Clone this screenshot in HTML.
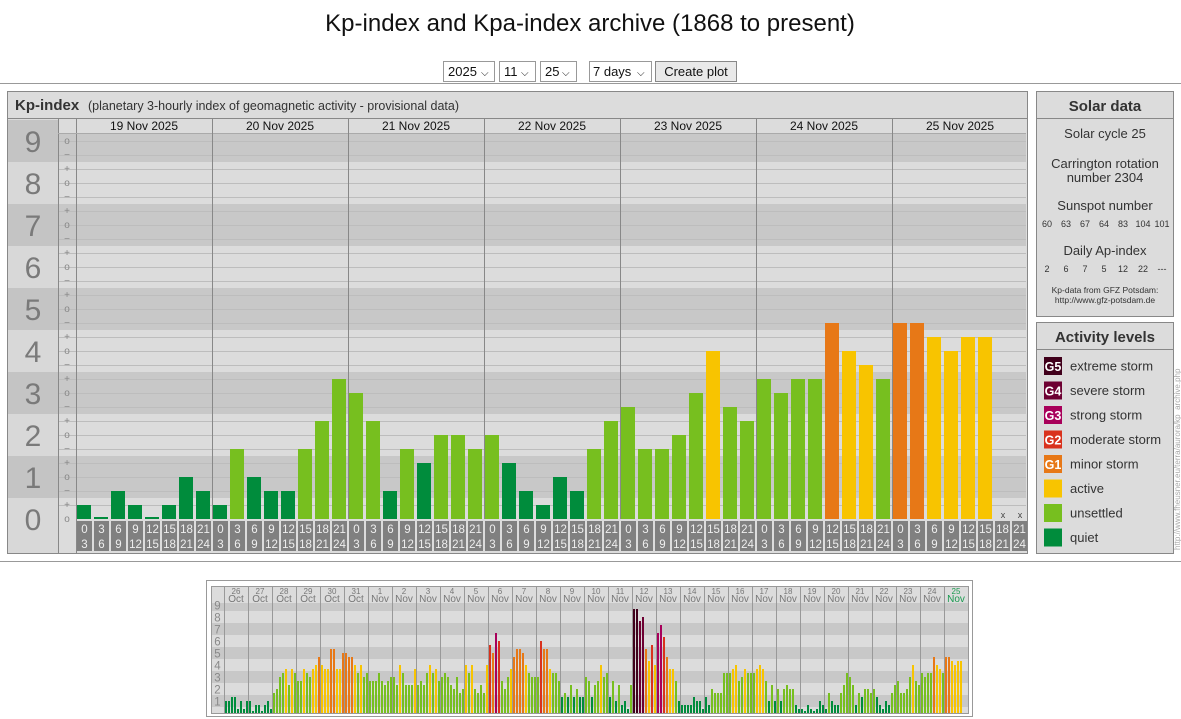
<!DOCTYPE html>
<html><head><meta charset="utf-8"><style>
html,body{margin:0;padding:0;background:#fff;}
svg{display:block;font-family:"Liberation Sans",sans-serif;}
</style></head><body>
<svg id="s" width="1181" height="719" xmlns="http://www.w3.org/2000/svg">
<text x="590" y="31" text-anchor="middle" font-size="24" fill="#111">Kp-index and Kpa-index archive (1868 to present)</text>
<g font-size="13" fill="#111">
<rect x="443.5" y="61.5" width="51" height="20" fill="#fff" stroke="#999"/><text x="448" y="76">2025</text><text x="481" y="76" font-size="10">⌵</text>
<rect x="499.5" y="61.5" width="36" height="20" fill="#fff" stroke="#999"/><text x="504" y="76">11</text><text x="521" y="76" font-size="10">⌵</text>
<rect x="540.5" y="61.5" width="36" height="20" fill="#fff" stroke="#999"/><text x="545" y="76">25</text><text x="562" y="76" font-size="10">⌵</text>
<rect x="589.5" y="61.5" width="62" height="20" fill="#fff" stroke="#999"/><text x="593" y="76">7 days</text><text x="637" y="76" font-size="10">⌵</text>
<rect x="655.5" y="61.5" width="81" height="20" fill="#e9e9e9" stroke="#888"/><text x="696" y="76" text-anchor="middle">Create plot</text>
</g>
<line x1="0" y1="83.5" x2="1181" y2="83.5" stroke="#999"/>
<line x1="0" y1="561.5" x2="1181" y2="561.5" stroke="#999"/>
<g id="main"></g>
<g id="side"></g>
<g id="mini"></g>
<text transform="translate(1180,550) rotate(-90)" font-size="8" fill="#aaa">http://www.fheusner.eu/terra/aurora/kp_archive.php</text>
</svg>
<script>
const NS="http://www.w3.org/2000/svg";
function el(p,t,a,txt){const e=document.createElementNS(NS,t);for(const k in a)e.setAttribute(k,a[k]);if(txt!==undefined)e.textContent=txt;p.appendChild(e);return e;}
function col(t){if(t<=4)return"#008c3c";if(t<=10)return"#77bf1f";if(t<=13)return"#f8c400";if(t<=16)return"#e77817";if(t<=19)return"#d9321d";if(t<=22)return"#a8005a";if(t<=25)return"#6d0032";return"#40001b";}
const m=document.getElementById("main");
el(m,"rect",{x:7.5,y:91.5,width:1020,height:462,fill:"#dcdcdc",stroke:"#888"});
el(m,"text",{x:15,y:110,"font-size":15,"font-weight":"bold",fill:"#333"},"Kp-index");
el(m,"text",{x:88,y:110,"font-size":12.5,fill:"#333"},"(planetary 3-hourly index of geomagnetic activity - provisional data)");
el(m,"line",{x1:7,y1:118.5,x2:1027,y2:118.5,stroke:"#888"});
const Y=v=>519-42*v;
for(let k=0;k<=9;k++){
 let t=Math.max(Y(k+0.5),133),b=Math.min(Y(k-0.5),519);
 let c=k%2?"#c8c8c8":"#dcdcdc";
 el(m,"rect",{x:76,y:t,width:950,height:b-t,fill:c});
 el(m,"rect",{x:58,y:t,width:18,height:b-t,fill:c});
 let tl=Math.max(Y(k+0.5),119),bl=k==0?553:b;
 el(m,"rect",{x:8,y:tl,width:50,height:bl-tl,fill:k%2?"#c4c4c4":"#d8d8d8"});
 el(m,"text",{x:33,y:Y(k)+11,"font-size":30,"text-anchor":"middle",fill:"#7a7a7a"},k);
}
for(let t=0;t<=27;t++){
 const y=519-14*t;
 if(t>0)el(m,"line",{x1:58,y1:y+0.5,x2:1026,y2:y+0.5,stroke:"#bdbdbd","stroke-width":1});
 const s=["o","+","−"][t%3==0?0:(t%3==1?1:2)];
 el(m,"text",{x:67,y:y+3,"font-size":10,"text-anchor":"middle",fill:"#888"},s);
}
el(m,"line",{x1:58.5,y1:119,x2:58.5,y2:553,stroke:"#888"});
el(m,"line",{x1:76.5,y1:119,x2:76.5,y2:553,stroke:"#888"});
el(m,"line",{x1:58,y1:133.5,x2:1026,y2:133.5,stroke:"#aaa"});
const days=["19 Nov 2025","20 Nov 2025","21 Nov 2025","22 Nov 2025","23 Nov 2025","24 Nov 2025","25 Nov 2025"];
const data=[[1,0,2,1,0,1,3,2],[1,5,3,2,2,5,7,10],[9,7,2,5,4,6,6,5],[6,4,2,1,3,2,5,7],[8,5,5,6,9,12,8,7],[10,9,10,10,14,12,11,10],[14,14,13,12,13,13,null,null]];
const hrs=[[0,3],[3,6],[6,9],[9,12],[12,15],[15,18],[18,21],[21,24]];
for(let d=0;d<7;d++){
 const x0=76+136*d;
 el(m,"text",{x:x0+68,y:130,"font-size":12,"text-anchor":"middle",fill:"#111"},days[d]);
 if(d>0)el(m,"line",{x1:x0+0.5,y1:119,x2:x0+0.5,y2:519,stroke:"#888"});
 for(let i=0;i<8;i++){
  const bx=x0+17*i;
  el(m,"rect",{x:bx+1,y:521,width:15,height:30,fill:"#808080"});
  el(m,"text",{x:bx+8.5,y:533,"font-size":11.5,"text-anchor":"middle",fill:"#eee"},hrs[i][0]);
  el(m,"text",{x:bx+8.5,y:548,"font-size":11.5,"text-anchor":"middle",fill:"#eee"},hrs[i][1]);
  const v=data[d][i];
  if(v===null){el(m,"text",{x:bx+9,y:518,"font-size":9,"text-anchor":"middle",fill:"#444"},"x");continue;}
  const h=v==0?2:14*v;
  el(m,"rect",{x:bx+1,y:519-h,width:14,height:h,fill:col(v)});
 }
}
const s=document.getElementById("side");
el(s,"rect",{x:1036.5,y:91.5,width:137,height:225,fill:"#dcdcdc",stroke:"#888"});
el(s,"line",{x1:1036,y1:118.5,x2:1174,y2:118.5,stroke:"#888"});
el(s,"text",{x:1105,y:111,"font-size":15,"font-weight":"bold","text-anchor":"middle",fill:"#333"},"Solar data");
const st=[[138,13,"Solar cycle 25"],[168,13,"Carrington rotation"],[182,13,"number 2304"],[210,13,"Sunspot number"],[255,13,"Daily Ap-index"]];
st.forEach(a=>el(s,"text",{x:1105,y:a[0],"font-size":a[1],"text-anchor":"middle",fill:"#333"},a[2]));
const ss=["60","63","67","64","83","104","101"],ap=["2","6","7","5","12","22","---"];
const sx=[1047,1066,1085,1104,1123,1143,1162];
ss.forEach((t,i)=>el(s,"text",{x:sx[i],y:227,"font-size":9,"text-anchor":"middle",fill:"#333"},t));
ap.forEach((t,i)=>el(s,"text",{x:sx[i],y:272,"font-size":9,"text-anchor":"middle",fill:"#333"},t));
el(s,"text",{x:1105,y:293,"font-size":8.5,"text-anchor":"middle",fill:"#333"},"Kp-data from  GFZ Potsdam:");
el(s,"text",{x:1105,y:303,"font-size":8.5,"text-anchor":"middle",fill:"#333"},"http://www.gfz-potsdam.de");
el(s,"rect",{x:1036.5,y:322.5,width:137,height:231,fill:"#dcdcdc",stroke:"#888"});
el(s,"line",{x1:1036,y1:349.5,x2:1174,y2:349.5,stroke:"#888"});
el(s,"text",{x:1105,y:342,"font-size":15,"font-weight":"bold","text-anchor":"middle",fill:"#333"},"Activity levels");
const lg=[["#40001b","G5","extreme storm"],["#6d0032","G4","severe storm"],["#a8005a","G3","strong storm"],["#d9321d","G2","moderate storm"],["#e77817","G1","minor storm"],["#f8c400","","active"],["#77bf1f","","unsettled"],["#008c3c","","quiet"]];
lg.forEach((a,i)=>{const y=357+24.5*i;
 el(s,"rect",{x:1044,y:y,width:18,height:18,fill:a[0]});
 if(a[1])el(s,"text",{x:1053,y:y+14,"font-size":12.5,"font-weight":"bold","text-anchor":"middle",fill:"#fff"},a[1]);
 el(s,"text",{x:1070,y:y+13.5,"font-size":13,fill:"#333"},a[2]);});
const n=document.getElementById("mini");
el(n,"rect",{x:206.5,y:580.5,width:766,height:136,fill:"#fff",stroke:"#999"});
const Ym=v=>713-12*v;
el(n,"rect",{x:211,y:586,width:757,height:127,fill:"#dcdcdc"});
for(let k=0;k<=9;k++){
 let t=Math.max(Ym(k+0.5),603),b=Math.min(Ym(k-0.5),713);
 if(k%2)el(n,"rect",{x:211,y:t,width:757,height:b-t,fill:"#c8c8c8"});
}
el(n,"rect",{x:211,y:586,width:757,height:17,fill:"#dcdcdc"});
for(let k=1;k<=9;k++)el(n,"text",{x:217.5,y:Ym(k)+4.5,"font-size":11.5,"text-anchor":"middle",fill:"#888"},k);
el(n,"rect",{x:211.5,y:586.5,width:757,height:127,fill:"none",stroke:"#999"});
el(n,"line",{x1:224.5,y1:586,x2:224.5,y2:713,stroke:"#999"});
const md=[[3,3,4,4,1,3,1,3],[3,0,2,2,0,2,3,1],[5,6,9,10,11,7,11,10],[8,8,11,10,9,11,12,14],[12,11,11,16,16,11,11,15],[15,14,14,12,10,12,9,10],[8,8,8,10,8,7,8,9],[9,7,12,10,7,7,7,11],[7,8,7,10,12,10,11,8],[9,10,9,7,6,9,5,6],[12,10,12,6,5,7,5,12],
[17,15,20,18,8,6,9,11],[14,16,16,15,12,10,9,9],[9,18,16,16,11,10,10,8],[4,5,4,7,4,6,4,4],[9,8,4,7,8,12,9,10],[4,8,3,7,2,3,1,7],[26,26,23,24,16,13,17,12],[20,22,19,14,11,11,8,3],[2,2,2,2,4,3,3,1],[4,2,6,5,5,5,10,10],[10,11,12,8,9,11,10,10],[10,11,12,11,8,3,7,3],[6,3,6,7,6,6,2,1],
[1,0,2,1,0,1,3,2],[1,5,3,2,2,5,7,10],[9,7,2,5,4,6,6,5],[6,4,2,1,3,2,5,7],[8,5,5,6,9,12,8,7],[10,9,10,10,14,12,11,10],[14,14,13,12,13,13,null,null]];
for(let d=0;d<31;d++){
 const x0=224+24*d;
 const day=d<6?26+d:d-5, mon=d<6?"Oct":"Nov";
 const c=d==30?"#1a9a50":"#777";
 el(n,"text",{x:x0+12,y:594,"font-size":8,"text-anchor":"middle",fill:c},day);
 el(n,"text",{x:x0+12,y:602,"font-size":10,"text-anchor":"middle",fill:c},mon);
 if(d>0)el(n,"line",{x1:x0+0.5,y1:586,x2:x0+0.5,y2:713,stroke:"#999"});
 for(let i=0;i<8;i++){const v=md[d][i];if(v===null)continue;
  const h=v==0?2:4*v;
  el(n,"rect",{x:x0+1+3*i,y:713-h,width:2,height:h,fill:col(v)});}
}
</script>
</body></html>
